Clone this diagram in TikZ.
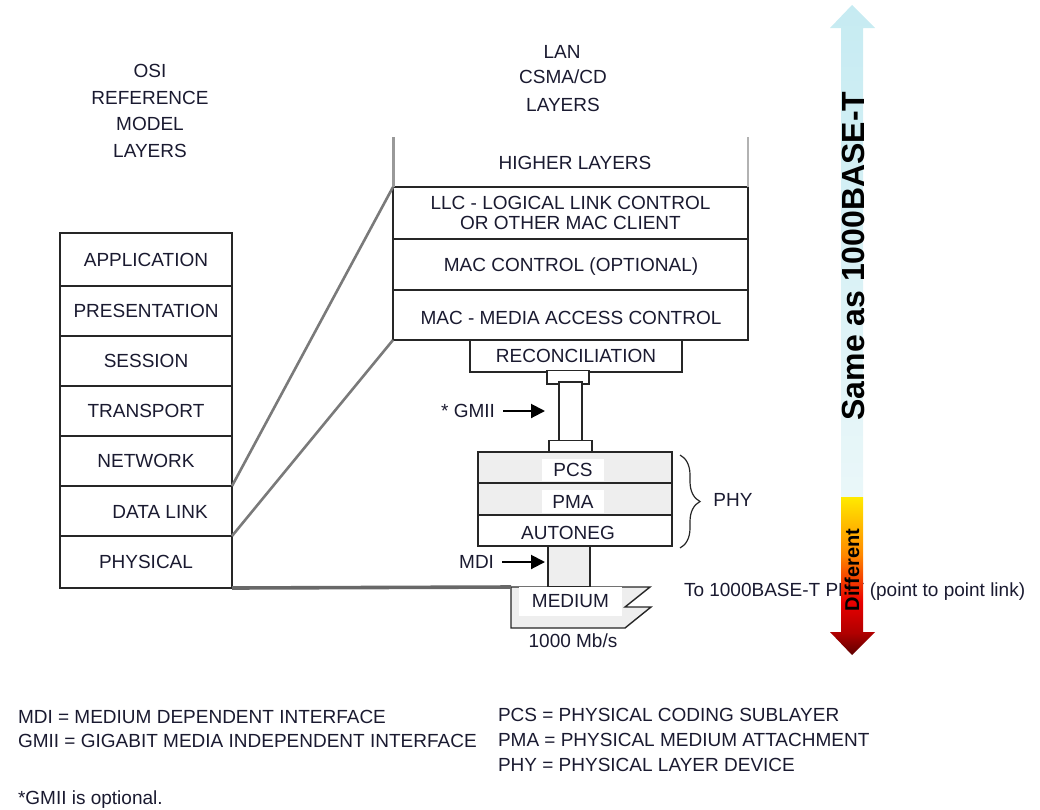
\documentclass[tikz,border=0pt]{standalone}
\usepackage{fontspec}
\setmainfont{Liberation Sans}
\usetikzlibrary{arrows.meta,decorations.pathreplacing}
\definecolor{txt}{HTML}{1A1A30}
\definecolor{edge}{HTML}{262626}
\definecolor{band}{HTML}{EEEEEE}
\definecolor{linkgray}{HTML}{7A7A7A}
\definecolor{skytop}{HTML}{C6EBF2}
\definecolor{skybot}{HTML}{EAF7F9}
\definecolor{yel}{HTML}{FFEA00}
\definecolor{orng}{HTML}{FF8A00}
\definecolor{redA}{HTML}{EA0000}
\definecolor{redB}{HTML}{B00000}
\definecolor{redC}{HTML}{5E0000}
% red-to-yellow ramp for the lower part of the side arrow
\pgfdeclareverticalshading{diffshade}{100bp}{color(0bp)=(redC); color(25bp)=(redC); color(32bp)=(redB); color(42bp)=(redA); color(57bp)=(orng); color(75bp)=(yel); color(100bp)=(yel)}
\begin{document}
\begin{tikzpicture}[x=1pt,y=-1pt,
  every node/.style={font=\fontsize{19}{19.5}\selectfont, text=txt, inner sep=0pt, outer sep=0pt},
  box/.style={draw=edge, line width=1.4pt, fill=white, text height=13.6pt, text depth=0pt},
  shaded box/.style={box, fill=band},
  link/.style={draw=linkgray, line width=2.6pt},
  physlink/.style={draw=linkgray!85!black, line width=3.6pt},
  ptr/.style={draw=black, line width=2pt, -{Triangle[length=14pt,width=14pt]}},
  bold/.style={font=\bfseries\fontsize{#1}{#1}\selectfont, text=black}]
\useasboundingbox (0,0) rectangle (1040,809);

% ---- OSI reference model stack
\node (osih) at (150,111) [align=center, font=\fontsize{19}{26.7}\selectfont] {OSI\\REFERENCE\\MODEL\\LAYERS};
\node[box, minimum width=172pt, minimum height=53pt] (app)   at (146,259.5) {APPLICATION};
\node[box, minimum width=172pt, minimum height=50pt] (pres)  at (146,311) {PRESENTATION};
\node[box, minimum width=172pt, minimum height=50pt] (sess)  at (146,361) {SESSION};
\node[box, minimum width=172pt, minimum height=50pt] (trans) at (146,411) {TRANSPORT};
\node[box, minimum width=172pt, minimum height=50pt] (net)   at (146,461) {NETWORK};
\node[box, minimum width=172pt, minimum height=50pt] (dl)    at (146,511) {};
\node (dltext) at (160,512) {DATA LINK};
\node[box, minimum width=172pt, minimum height=52pt] (phys)  at (146,562) {PHYSICAL};

% ---- LAN CSMA/CD stack
\node (lanh) at (562,52) {LAN};
\node (lanh2) at (563,77) {CSMA/CD};
\node (lanh3) at (563,105) {LAYERS};
\node (hl) at (575,163) {HIGHER LAYERS};
\node[draw=edge, line width=1.4pt, fill=white, minimum width=355pt, minimum height=52pt, align=center] (llc) at (570.5,213) {LLC - LOGICAL LINK CONTROL\\OR OTHER MAC CLIENT};
\node[box, minimum width=355pt, minimum height=51pt] (macc) at (570.5,264.5) {};
\node (macctext) at (571,267) {MAC CONTROL (OPTIONAL)};
\node[box, minimum width=355pt, minimum height=50pt] (mac) at (570.5,315) {};
\node (mactext) at (571,318) {MAC - MEDIA ACCESS CONTROL};
\draw[draw=gray!80, line width=3pt] (llc.north west) -- ++(0,-50);
\draw[draw=gray!60, line width=1.4pt] (llc.north east) -- ++(0,-50);
\node[box, minimum width=212pt, minimum height=32pt] (recon) at (576,356) {RECONCILIATION};

% GMII connector
\node[box, minimum width=42pt, minimum height=10pt] (conna) at (568,377) {};
\node[box, minimum width=23pt, minimum height=60pt] (gmiipipe) at (570.5,412) {};
\node[box, minimum width=43pt, minimum height=10pt] (connb) at (570.5,447) {};

% PHY sublayers
\node[shaded box, minimum width=194pt, minimum height=31pt] (pcs) at (575,467.5) {};
\node[shaded box, minimum width=194pt, minimum height=32pt] (pma) at (575,499) {};
\node[box, minimum width=194pt, minimum height=31pt] (auto) at (575,530.5) {};
\node[fill=white, minimum width=62pt, minimum height=22pt] (pcstext) at (573,470) {PCS};
\node[fill=white, minimum width=62pt, minimum height=23pt] (pmatext) at (573,501.5) {PMA};
\node (autotext) at (568,533) {AUTONEG};
\draw[draw=edge, line width=1.2pt, decorate, decoration={brace, amplitude=20pt}] (680,455) -- (680,548);
\node (phy) at (733,500) {PHY};

% MDI and medium
\node[shaded box, minimum width=42pt, minimum height=41pt] (mdipipe) at (569,566.5) {};
\coordinate (medtl) at (511,587);
\draw[draw=edge, line width=1.4pt, fill=band] (medtl) -- (650,587) -- (625,607) -- (651,607) -- (625,628) -- (511,628) -- cycle;
\node[fill=white, minimum width=103pt, minimum height=29pt] (medium) at (570.5,601.5) {MEDIUM};
\node (rate) at (573,641) {1000 Mb/s};

% interface pointers
\node[anchor=east] (gmii) at (495,411) {* GMII};
\coordinate (gmiitip) at (545,411);
\draw[ptr] ([xshift=8pt]gmii.east) -- (gmiitip);
\node[anchor=east] (mdi) at (494,562) {MDI};
\coordinate (mditip) at (545,562);
\draw[ptr] ([xshift=8pt]mdi.east) -- (mditip);

% mapping between the two stacks
\draw[link] (net.south east) -- (llc.north west);
\draw[link] (dl.south east) -- (mac.south west);
\draw[physlink] (phys.south east) -- (medtl);

\node[anchor=west] (topoint) at (684,592) {To 1000BASE-T PHY (point to point link)};

% ---- side arrow: same / different
\shade[top color=skytop, bottom color=skybot] (852,5) -- (875,28) -- (863,28) -- (863,497) -- (841,497) -- (841,28) -- (830,28) -- cycle;
\shade[shading=diffshade] (841,497) -- (863,497) -- (863,632) -- (875,632) -- (852,655) -- (830,632) -- (841,632) -- cycle;
\node[bold=32, rotate=90] (same) at (853,256) {Same as 1000BASE-T};
\node[bold=20, rotate=90] (diff) at (852,570) {Different};

% ---- legend
\node[anchor=west] (lg1) at (18,717) {MDI = MEDIUM DEPENDENT INTERFACE};
\node[anchor=west] (lg2) at (18,741) {GMII = GIGABIT MEDIA INDEPENDENT INTERFACE};
\node[anchor=west] (lg3) at (498,715) {PCS = PHYSICAL CODING SUBLAYER};
\node[anchor=west] (lg4) at (498,740) {PMA = PHYSICAL MEDIUM ATTACHMENT};
\node[anchor=west] (lg5) at (498,765) {PHY = PHYSICAL LAYER DEVICE};
\node[anchor=west] (note) at (18,800) {*GMII is optional.};
\end{tikzpicture}
\end{document}
